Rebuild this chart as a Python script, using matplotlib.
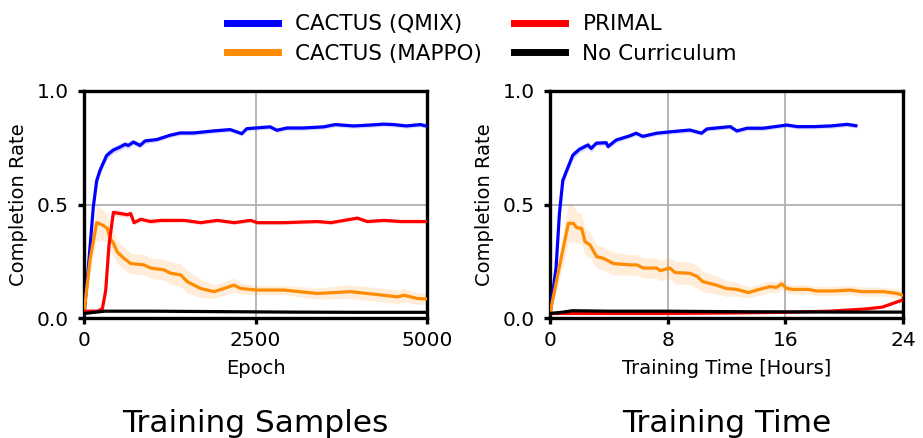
import numpy as np
import matplotlib
matplotlib.use("Agg")
import matplotlib.pyplot as plt

# ---------------- data: left panel (Epoch) ----------------
qmix_ep_x = [0, 63, 136, 185, 233, 330, 428, 525, 598, 646, 720, 817, 890, 1060, 1255, 1400, 1595,
             1887, 2130, 2300, 2373, 2714, 2811, 2957, 3200, 3492, 3662, 3930, 4173, 4368, 4514,
             4700, 4903, 5000]
qmix_ep_y = [0.015, 0.22, 0.49, 0.605, 0.65, 0.716, 0.74, 0.753, 0.765, 0.76, 0.775, 0.76, 0.78,
             0.786, 0.805, 0.815, 0.815, 0.824, 0.83, 0.812, 0.834, 0.842, 0.827, 0.837, 0.837,
             0.842, 0.852, 0.846, 0.85, 0.854, 0.852, 0.846, 0.852, 0.845]
qmix_ep_s = [0.005, 0.03, 0.03, 0.025, 0.02, 0.02, 0.015, 0.015, 0.015, 0.015, 0.012, 0.012, 0.012,
             0.01, 0.01, 0.01, 0.01, 0.01, 0.01, 0.01, 0.01, 0.01, 0.01, 0.01, 0.01,
             0.01, 0.01, 0.01, 0.01, 0.01, 0.01, 0.01, 0.01, 0.01]

mappo_ep_x = [0, 87, 185, 267, 340, 380, 428, 486, 583, 680, 875, 972, 1166, 1263, 1409, 1506,
              1700, 1895, 2040, 2187, 2284, 2527, 2915, 3400, 3887, 4130, 4373, 4567, 4665, 4859, 5000]
mappo_ep_y = [0.02, 0.255, 0.42, 0.41, 0.395, 0.35, 0.33, 0.29, 0.263, 0.24, 0.234, 0.22, 0.212,
              0.197, 0.19, 0.16, 0.13, 0.116, 0.13, 0.145, 0.13, 0.123, 0.123, 0.108, 0.116,
              0.108, 0.1, 0.093, 0.1, 0.086, 0.084]
mappo_ep_s = [0.01, 0.06, 0.08, 0.07, 0.06, 0.06, 0.055, 0.05, 0.05, 0.045, 0.045, 0.045, 0.045,
              0.05, 0.05, 0.05, 0.04, 0.03, 0.03, 0.03, 0.025, 0.02, 0.02, 0.025, 0.03,
              0.03, 0.03, 0.03, 0.03, 0.025, 0.025]

primal_ep_x = [0, 194, 267, 316, 364, 428, 534, 632, 680, 729, 826, 972, 1120, 1460, 1700, 1943,
               2190, 2430, 2527, 2915, 3400, 3600, 3887, 3985, 4130, 4373, 4620, 5000]
primal_ep_y = [0.03, 0.03, 0.04, 0.12, 0.32, 0.465, 0.46, 0.455, 0.46, 0.42, 0.435, 0.425, 0.43,
               0.43, 0.42, 0.43, 0.42, 0.43, 0.42, 0.42, 0.425, 0.42, 0.435, 0.44, 0.425,
               0.43, 0.425, 0.425]
primal_ep_s = [0.005, 0.005, 0.008, 0.015, 0.02, 0.015, 0.012, 0.012, 0.012, 0.01, 0.01, 0.01, 0.01,
               0.008, 0.008, 0.008, 0.008, 0.008, 0.008, 0.008, 0.008, 0.008, 0.008, 0.008, 0.008,
               0.008, 0.008, 0.008]

nocur_ep_x = [0, 150, 300, 1000, 2000, 3000, 4000, 5000]
nocur_ep_y = [0.02, 0.025, 0.03, 0.03, 0.028, 0.026, 0.025, 0.025]

# ---------------- data: right panel (Training time, hours) ----------------
qmix_h_x = [0, 0.41, 0.64, 0.87, 1.2, 1.55, 2.0, 2.58, 2.8, 3.15, 3.83, 3.94, 4.5, 5.4, 5.86, 6.3,
            7.25, 8.16, 9.5, 10.3, 10.67, 12.26, 12.7, 13.4, 14.5, 16.1, 16.8, 17.96, 19.1,
            20.2, 20.8]
qmix_h_y = [0.02, 0.22, 0.46, 0.606, 0.66, 0.717, 0.743, 0.762, 0.747, 0.77, 0.772, 0.755, 0.784,
            0.802, 0.814, 0.8, 0.814, 0.82, 0.828, 0.814, 0.833, 0.843, 0.824, 0.836, 0.836,
            0.85, 0.843, 0.843, 0.846, 0.853, 0.847]
qmix_h_s = [0.005, 0.03, 0.03, 0.025, 0.02, 0.02, 0.015, 0.015, 0.015, 0.012, 0.012, 0.012, 0.012,
            0.01, 0.01, 0.01, 0.01, 0.01, 0.01, 0.01, 0.01, 0.01, 0.01, 0.01, 0.01,
            0.01, 0.01, 0.01, 0.01, 0.01, 0.01]

mappo_h_x = [0, 0.68, 1.25, 1.59, 1.81, 2.15, 2.38, 2.72, 3.17, 3.63, 4.3, 5.44, 5.9, 6.35, 7.25,
             7.48, 8.16, 8.5, 9.5, 10.0, 10.4, 11.3, 12.0, 12.7, 13.5, 14.05, 14.96, 15.4, 15.75,
             16.1, 16.5, 17.56, 18.1, 19.26, 20.4, 21.2, 22.7, 23.6, 24.0]
mappo_h_y = [0.02, 0.24, 0.417, 0.417, 0.398, 0.395, 0.336, 0.322, 0.27, 0.263, 0.24, 0.234, 0.234,
             0.22, 0.22, 0.209, 0.22, 0.2, 0.197, 0.183, 0.16, 0.145, 0.13, 0.126, 0.112,
             0.123, 0.138, 0.135, 0.15, 0.13, 0.126, 0.126, 0.119, 0.119, 0.123, 0.116,
             0.116, 0.108, 0.1]
mappo_h_s = [0.01, 0.06, 0.085, 0.08, 0.07, 0.065, 0.06, 0.055, 0.05, 0.05, 0.05, 0.045, 0.045,
             0.045, 0.045, 0.045, 0.045, 0.05, 0.05, 0.05, 0.045, 0.04, 0.035, 0.03, 0.025,
             0.025, 0.025, 0.025, 0.025, 0.02, 0.02, 0.02, 0.02, 0.02, 0.02, 0.02,
             0.02, 0.02, 0.02]

primal_h_x = [0, 4, 8, 12, 16, 19, 21.5, 22.6, 24]
primal_h_y = [0.02, 0.02, 0.02, 0.022, 0.025, 0.03, 0.04, 0.048, 0.08]

nocur_h_x = [0, 0.8, 1.5, 4, 8, 12, 16, 20, 24]
nocur_h_y = [0.02, 0.025, 0.032, 0.03, 0.03, 0.028, 0.027, 0.026, 0.026]

labels = ["CACTUS (QMIX)", "CACTUS (MAPPO)", "PRIMAL", "No Curriculum"]
colors = ["#0000ff", "#ff8c00", "#ff0000", "#000000"]

ep_ticks = [0, 2500, 5000]
h_ticks = [0, 8, 16, 24]
y_ticks = [0.0, 0.5, 1.0]

# ---------------- plotting ----------------
plt.rcParams['font.family'] = ['DejaVu Sans']
fig = plt.figure(figsize=(9.23, 4.38), dpi=100)
ax1 = fig.add_axes([84/923, 1-318/438, 343/923, 227/438])
ax2 = fig.add_axes([550/923, 1-318/438, 353/923, 227/438])

LW = 2.3


def band(ax, x, y, s, c, alpha=0.15):
    x = np.asarray(x); y = np.asarray(y); s = np.asarray(s)
    ax.fill_between(x, y - s, y + s, color=c, alpha=alpha, lw=0, zorder=2)


band(ax1, qmix_ep_x, qmix_ep_y, qmix_ep_s, colors[0])
band(ax1, mappo_ep_x, mappo_ep_y, mappo_ep_s, colors[1])
band(ax1, primal_ep_x, primal_ep_y, primal_ep_s, colors[2])
h0, = ax1.plot(qmix_ep_x, qmix_ep_y, color=colors[0], lw=LW, zorder=3)
h1, = ax1.plot(mappo_ep_x, mappo_ep_y, color=colors[1], lw=LW, zorder=3)
h2, = ax1.plot(primal_ep_x, primal_ep_y, color=colors[2], lw=LW, zorder=3)
h3, = ax1.plot(nocur_ep_x, nocur_ep_y, color=colors[3], lw=LW, zorder=3)

band(ax2, qmix_h_x, qmix_h_y, qmix_h_s, colors[0])
band(ax2, mappo_h_x, mappo_h_y, mappo_h_s, colors[1])
ax2.plot(qmix_h_x, qmix_h_y, color=colors[0], lw=LW, zorder=3)
ax2.plot(mappo_h_x, mappo_h_y, color=colors[1], lw=LW, zorder=3)
ax2.plot(primal_h_x, primal_h_y, color=colors[2], lw=LW, zorder=3)
ax2.plot(nocur_h_x, nocur_h_y, color=colors[3], lw=LW, zorder=3)

for ax, xt, xlab in [(ax1, ep_ticks, "Epoch"), (ax2, h_ticks, "Training Time [Hours]")]:
    ax.set_xlim(xt[0], xt[-1])
    ax.set_ylim(0, 1)
    ax.set_xticks(xt)
    ax.set_yticks(y_ticks)
    ax.set_yticklabels(["0.0", "0.5", "1.0"])
    ax.grid(True, color="#b0b0b0", lw=1.3, zorder=0)
    ax.set_axisbelow(True)
    for sp in ax.spines.values():
        sp.set_linewidth(2.4)
    ax.tick_params(axis="both", direction="out", length=4, width=2.4, labelsize=14.5)
    ax.tick_params(axis="x", pad=5)
    ax.tick_params(axis="y", pad=7)
    ax.set_xlabel(xlab, fontsize=14, labelpad=7)
    ax.set_ylabel("Completion Rate", fontsize=14, labelpad=6)

leg = fig.legend([h0, h1, h2, h3], labels, ncol=2, loc="upper center",
                 bbox_to_anchor=(0.522, 1.012), frameon=False, fontsize=15.5,
                 handlelength=2.4, columnspacing=1.45, labelspacing=0.45, handletextpad=0.8)
for ln in leg.get_lines():
    ln.set_linewidth(5)

fig.text((84 + 427) / 2 / 923, 1 - 432 / 438, "Training Samples", ha="center", va="baseline", fontsize=22.5)
fig.text((550 + 903) / 2 / 923, 1 - 432 / 438, "Training Time", ha="center", va="baseline", fontsize=22.5)

fig.savefig("out.png", dpi=100)
